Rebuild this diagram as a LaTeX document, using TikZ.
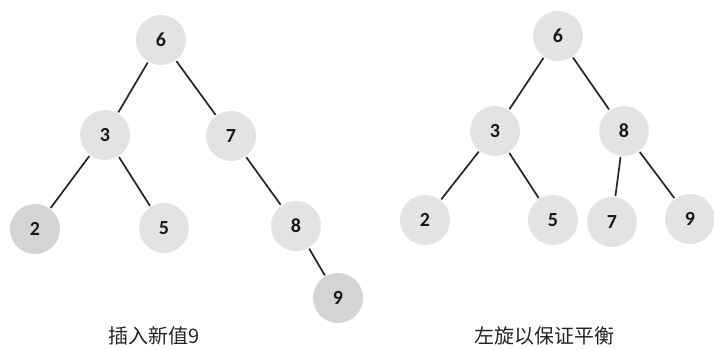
\documentclass[tikz,border=0pt]{standalone}
\usepackage{fontspec}
\setmainfont{Carlito}
\newfontfamily\cjk{Noto Sans CJK SC}
\begin{document}
\begin{tikzpicture}[x=1pt,y=-1pt,
  tnode/.style={circle,minimum size=50pt,inner sep=0pt,fill=gray!22,
    font=\bfseries\fontsize{20}{20}\selectfont,text=black!90},
  dnode/.style={tnode,fill=gray!34},
  edge/.style={line width=1.7pt,black!85,shorten <=1pt,shorten >=1pt},
  captext/.style={font=\cjk\fontsize{20}{20}\selectfont,text=black!85}]
\useasboundingbox (0,0) rectangle (714,350);
% left tree
\node[tnode] (l6) at (161,40) {6};
\node[tnode] (l3) at (105,135) {3};
\node[tnode] (l7) at (231,136) {7};
\node[dnode] (l2) at (35,229) {2};
\node[tnode] (l5) at (164,228) {5};
\node[tnode] (l8) at (296,226) {8};
\node[dnode] (l9) at (338,298) {9};
\draw[edge] (l6) -- (l3);
\draw[edge] (l6) -- (l7);
\draw[edge] (l3) -- (l2);
\draw[edge] (l3) -- (l5);
\draw[edge] (l7) -- (l8);
\draw[edge] (l8) -- (l9);
\node[captext] (c1) at (154,336) {插入新值9};
% right tree
\node[tnode] (r6) at (558,36) {6};
\node[tnode] (r3) at (495,131) {3};
\node[tnode] (r8) at (624,131) {8};
\node[tnode] (r2) at (425,220) {2};
\node[tnode] (r5) at (553,220) {5};
\node[tnode] (r7) at (612,222) {7};
\node[tnode] (r9) at (690,219) {9};
\draw[edge] (r6) -- (r3);
\draw[edge] (r6) -- (r8);
\draw[edge] (r3) -- (r2);
\draw[edge] (r3) -- (r5);
\draw[edge] (r8) -- (r7);
\draw[edge] (r8) -- (r9);
\node[captext] (c2) at (544,336) {左旋以保证平衡};
\end{tikzpicture}
\end{document}
